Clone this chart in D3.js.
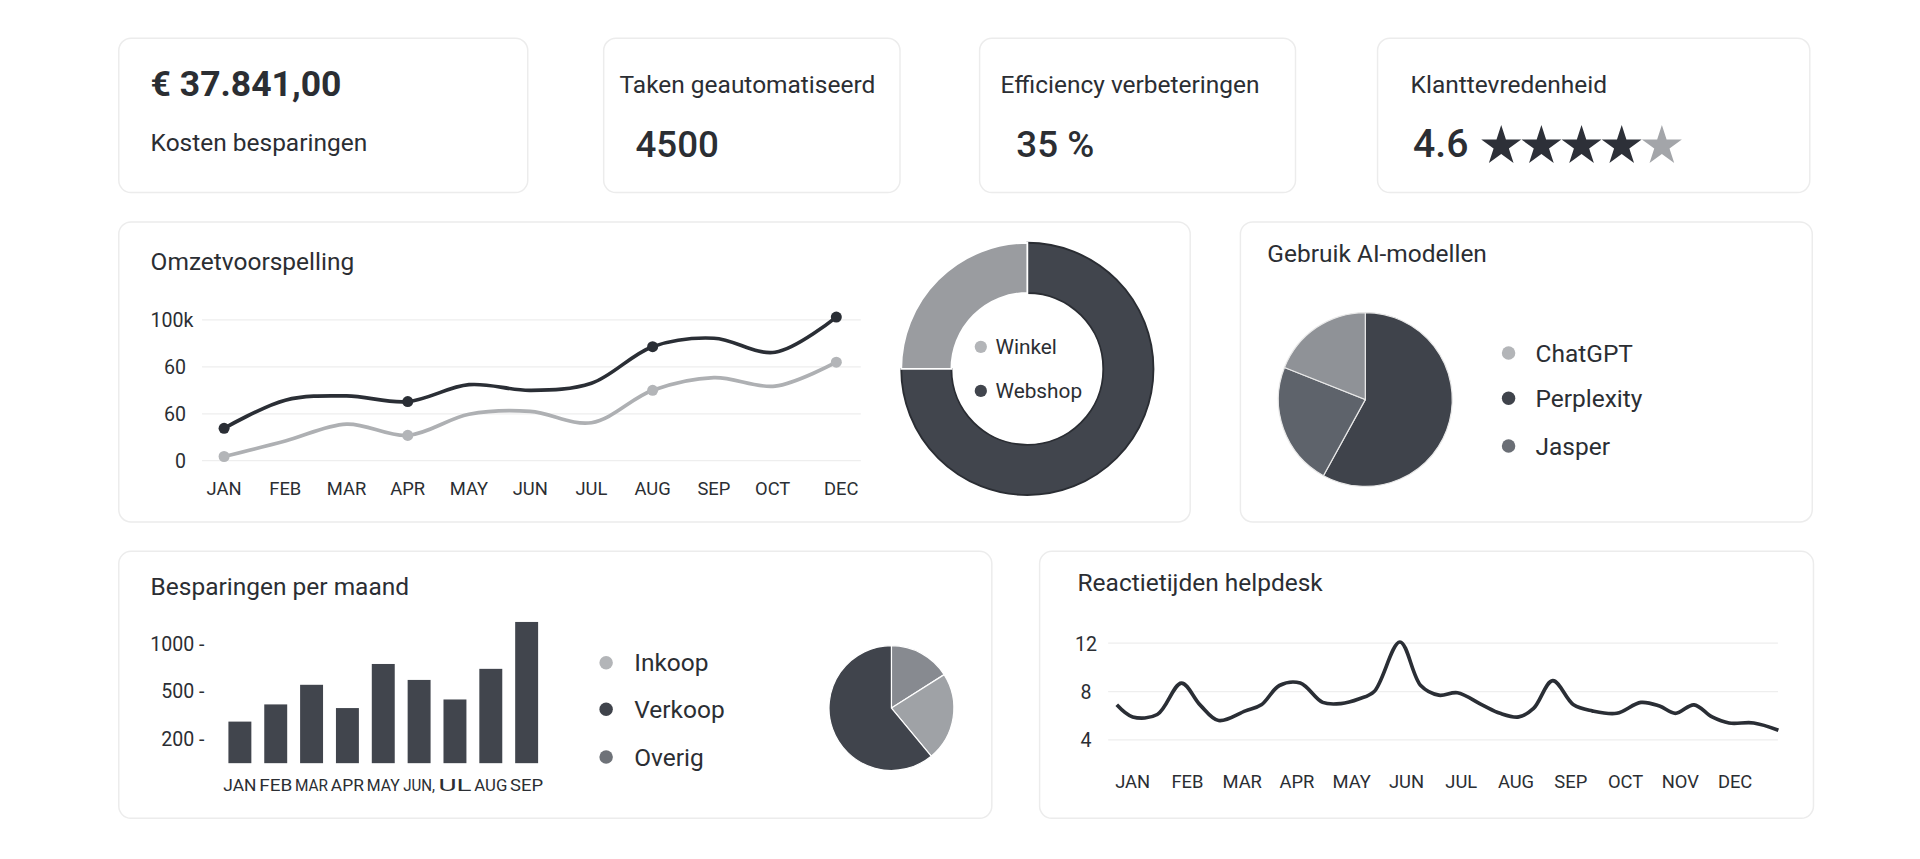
<!DOCTYPE html>
<html><head><meta charset="utf-8">
<script src="https://cdn.jsdelivr.net/npm/d3@7"></script>
<style>html,body{margin:0;background:#fff;overflow:hidden}svg{display:block}text{font-family:Roboto,"Noto Sans",sans-serif;fill:#2b2e33}</style>
</head><body><svg id="c" width="1920" height="859" viewBox="0 0 1568 701"></svg>
<script>
// ---- data ----
const kpis = [
  {value:"€ 37.841,00", label:"Kosten besparingen"},
  {label:"Taken geautomatiseerd", value:"4500"},
  {label:"Efficiency verbeteringen", value:"35 %"},
  {label:"Klanttevredenheid", value:"4.6"}
];
const rating = 4.6;
const omzetMonths = ["JAN","FEB","MAR","APR","MAY","JUN","JUL","AUG","SEP","OCT","DEC"];
const omzetWebshopSeries = [23,43,46,42,54,50,55,81,87,77,102];
const omzetWinkelSeries = [3,14,26,18,33,35,27,50,59,53,70];
const omzetTicks = [0,33.3,66.7,100];
const omzetTickLabels = ["0","60","60","100k"];
const omzetMarked = ["JAN","APR","AUG","DEC"];
const donutLabels = ["Webshop","Winkel"];
const donutValues = [75,25];
const aiLabels = ["Perplexity","Jasper","ChatGPT"];
const aiValues = [58,23,19];
const aiLegend = ["ChatGPT","Perplexity","Jasper"];
const barMonths = ["JAN","FEB","MAR","APR","MAY","JUN,","UL","AUG","SEP"];
const barValues = [315,423,577,400,795,628,454,744,1141];
const barTicks = [200,500,1000];
const savLegend = ["Inkoop","Verkoop","Overig"];
const savPieLabels = ["Overig","Inkoop","Verkoop"];
const savPieValues = [16,23,61];
const helpMonths = ["JAN","FEB","MAR","APR","MAY","JUN","JUL","AUG","SEP","OCT","NOV","DEC"];
const helpT = [-0.29,0,0.45,0.89,1.23,1.57,2.06,2.35,2.68,3.06,3.47,3.80,4.14,4.41,4.88,5.26,5.59,5.93,6.38,6.71,7.05,7.32,7.67,8.05,8.39,8.84,9.28,9.62,9.91,10.25,10.58,10.89,11.34,11.79];
const helpV = [6.9,5.9,6.1,8.7,6.9,5.6,6.4,6.9,8.5,8.7,7.1,7.0,7.4,8.0,12.1,8.5,7.7,7.9,6.9,6.2,5.9,6.6,8.9,6.9,6.4,6.2,7.1,6.8,6.2,6.9,5.9,5.4,5.4,4.8];
const helpTicks = [4,8,12];

// ---- colors ----
const DARK="#41454d", DARKLINE="#2a2e35", LIGHT="#a9abaf", MID="#626770";

const svg=d3.select("#c");
function card(x,y,w,h){svg.append("rect").attr("x",x).attr("y",y).attr("width",w).attr("height",h).attr("rx",10).attr("fill","#fff").attr("stroke","#ececec").attr("stroke-width",1.2);}
function txt(x,y,s,size,opt={}){return svg.append("text").attr("x",x).attr("y",y).attr("font-size",size).attr("font-weight",opt.w||400).attr("text-anchor",opt.a||"start").style("fill",opt.c||"#2b2e33").text(s);}

// KPI cards
card(97,31,334,126); card(493,31,242,126); card(800,31,258,126); card(1125,31,353,126);
txt(123,78,kpis[0].value,29,{w:700});
txt(123,123,kpis[0].label,20);
txt(506,76,kpis[1].label,20); txt(519,128,kpis[1].value,30,{w:500});
txt(817,76,kpis[2].label,20); txt(830,128,kpis[2].value,30,{w:500});
txt(1152,76,kpis[3].label,20); txt(1154,128,kpis[3].value,32,{w:500});
const star=d3.symbol().type(d3.symbolStar).size(330);
d3.range(5).forEach(i=>{svg.append("path").attr("d",star).attr("transform",`translate(${1226+i*32.8},119)`).attr("fill",i<Math.floor(rating)?"#2d3038":"#a3a5a9");});

// Omzet card
card(97,181,875,245);
txt(123,220,"Omzetvoorspelling",20);
const ox=d3.scalePoint().domain(omzetMonths).range([183,683]);
const xOff={DEC:4,OCT:-2};
const oy=d3.scaleLinear().domain([0,100]).range([376,261]);
const og=svg.append("g");
omzetTicks.forEach((t,i)=>{
  og.append("line").attr("x1",165).attr("x2",703).attr("y1",oy(t)).attr("y2",oy(t)).attr("stroke","#eeeeee");
  og.append("text").attr("x",i==3?123:152).attr("y",oy(t)+6).attr("font-size",16).attr("text-anchor",i==3?"start":"end").text(omzetTickLabels[i]);
});
omzetMonths.forEach(m=>og.append("text").attr("x",ox(m)+(xOff[m]||0)).attr("y",404).attr("text-anchor","middle").attr("font-size",15).text(m));
const oline=d3.line().x((d,i)=>ox(omzetMonths[i])).y(d=>oy(d)).curve(d3.curveCatmullRom.alpha(0.5));
og.append("path").attr("d",oline(omzetWinkelSeries)).attr("fill","none").attr("stroke","#aeb0b3").attr("stroke-width",3);
og.append("path").attr("d",oline(omzetWebshopSeries)).attr("fill","none").attr("stroke",DARKLINE).attr("stroke-width",3);
omzetMarked.forEach(m=>{const i=omzetMonths.indexOf(m);
  og.append("circle").attr("cx",ox(m)).attr("cy",oy(omzetWinkelSeries[i])).attr("r",4.5).attr("fill","#b3b5b8");
  og.append("circle").attr("cx",ox(m)).attr("cy",oy(omzetWebshopSeries[i])).attr("r",4.5).attr("fill",DARKLINE);});
// donut
const pieF=d3.pie().sort(null).value(d=>d);
const darc=d3.arc().innerRadius(62).outerRadius(103);
const dg=svg.append("g").attr("transform","translate(839,301)");
dg.selectAll("path").data(pieF(donutValues)).join("path").attr("d",darc).attr("fill",(d,i)=>i==0?DARK:"#9a9ca0").attr("stroke",(d,i)=>i==0?"#2a2d33":"#fff").attr("stroke-width",1.5);
[["Winkel",283,"#b3b5b8"],["Webshop",319,DARK]].forEach(([l,y,c])=>{svg.append("circle").attr("cx",801).attr("cy",y).attr("r",5).attr("fill",c);txt(813,y+6,l,17);});

// AI card
card(1013,181,467,245);
txt(1035,214,"Gebruik AI-modellen",20);
const ag=svg.append("g").attr("transform","translate(1115,326)");
const acol={Perplexity:"#3f434b",Jasper:"#5e636b",ChatGPT:"#8f9297"};
ag.selectAll("path").data(pieF(aiValues)).join("path").attr("d",d3.arc().innerRadius(0).outerRadius(71)).attr("fill",(d,i)=>acol[aiLabels[i]]).attr("stroke","#e8e8e8").attr("stroke-width",1);
const lcol={ChatGPT:"#b3b5b8",Perplexity:"#3f434b",Jasper:"#6a6e75"};
aiLegend.forEach((l,i)=>{const y=[288,325,364][i];svg.append("circle").attr("cx",1232).attr("cy",y).attr("r",5.5).attr("fill",lcol[l]);txt(1254,y+7,l,20);});

// Besparingen card
card(97,450,713,218);
txt(123,486,"Besparingen per maand",20);
const bx=d3.scaleBand().domain(barMonths).range([176,450]).padding(0.36);
const by=d3.scaleLinear().domain([0,200,500,1000,1200]).range([623,604,565,526,500]);
barTicks.forEach(t=>svg.append("text").attr("x",167).attr("y",by(t)+5).attr("text-anchor","end").attr("font-size",16).text(t+" -"));
svg.selectAll(".bar").data(barValues).join("rect").attr("x",(d,i)=>bx(barMonths[i])).attr("width",bx.bandwidth()).attr("y",d=>by(d)).attr("height",d=>623-by(d)).attr("fill",DARK);
barMonths.forEach(m=>svg.append("text").attr("x",bx(m)+bx.bandwidth()/2).attr("y",646).attr("text-anchor","middle").attr("font-size",14).attr("textLength",m.length>3?26:27).attr("lengthAdjust","spacingAndGlyphs").text(m));
const scol={Inkoop:"#b3b5b8",Verkoop:"#3f434b",Overig:"#6e7278"};
savLegend.forEach((l,i)=>{const y=[541,579,618][i];svg.append("circle").attr("cx",495).attr("cy",y).attr("r",5.5).attr("fill",scol[l]);txt(518,y+7,l,20);});
const pcol={Overig:"#878a90",Inkoop:"#9fa2a6",Verkoop:"#40444c"};
svg.append("g").attr("transform","translate(728,578)").selectAll("path").data(pieF(savPieValues)).join("path").attr("d",d3.arc().innerRadius(0).outerRadius(51)).attr("fill",(d,i)=>pcol[savPieLabels[i]]).attr("stroke","#fff").attr("stroke-width",1);

// Helpdesk card
card(849,450,632,218);
txt(880,482,"Reactietijden helpdesk",20);
const hx=d3.scaleLinear().domain([0,11]).range([925,1417]);
const hy=d3.scaleLinear().domain([4,12]).range([604,525]);
helpTicks.forEach(t=>{svg.append("line").attr("x1",905).attr("x2",1452).attr("y1",hy(t)).attr("y2",hy(t)).attr("stroke","#eeeeee");
  svg.append("text").attr("x",887).attr("y",hy(t)+6).attr("text-anchor","middle").attr("font-size",16).text(t);});
helpMonths.forEach((m,i)=>svg.append("text").attr("x",hx(i)).attr("y",643).attr("text-anchor","middle").attr("font-size",15).text(m));
svg.append("path").attr("d",d3.line().x((d,i)=>hx(helpT[i])).y(d=>hy(d)).curve(d3.curveCatmullRom.alpha(0.5))(helpV)).attr("fill","none").attr("stroke",DARKLINE).attr("stroke-width",3);
</script></body></html>
